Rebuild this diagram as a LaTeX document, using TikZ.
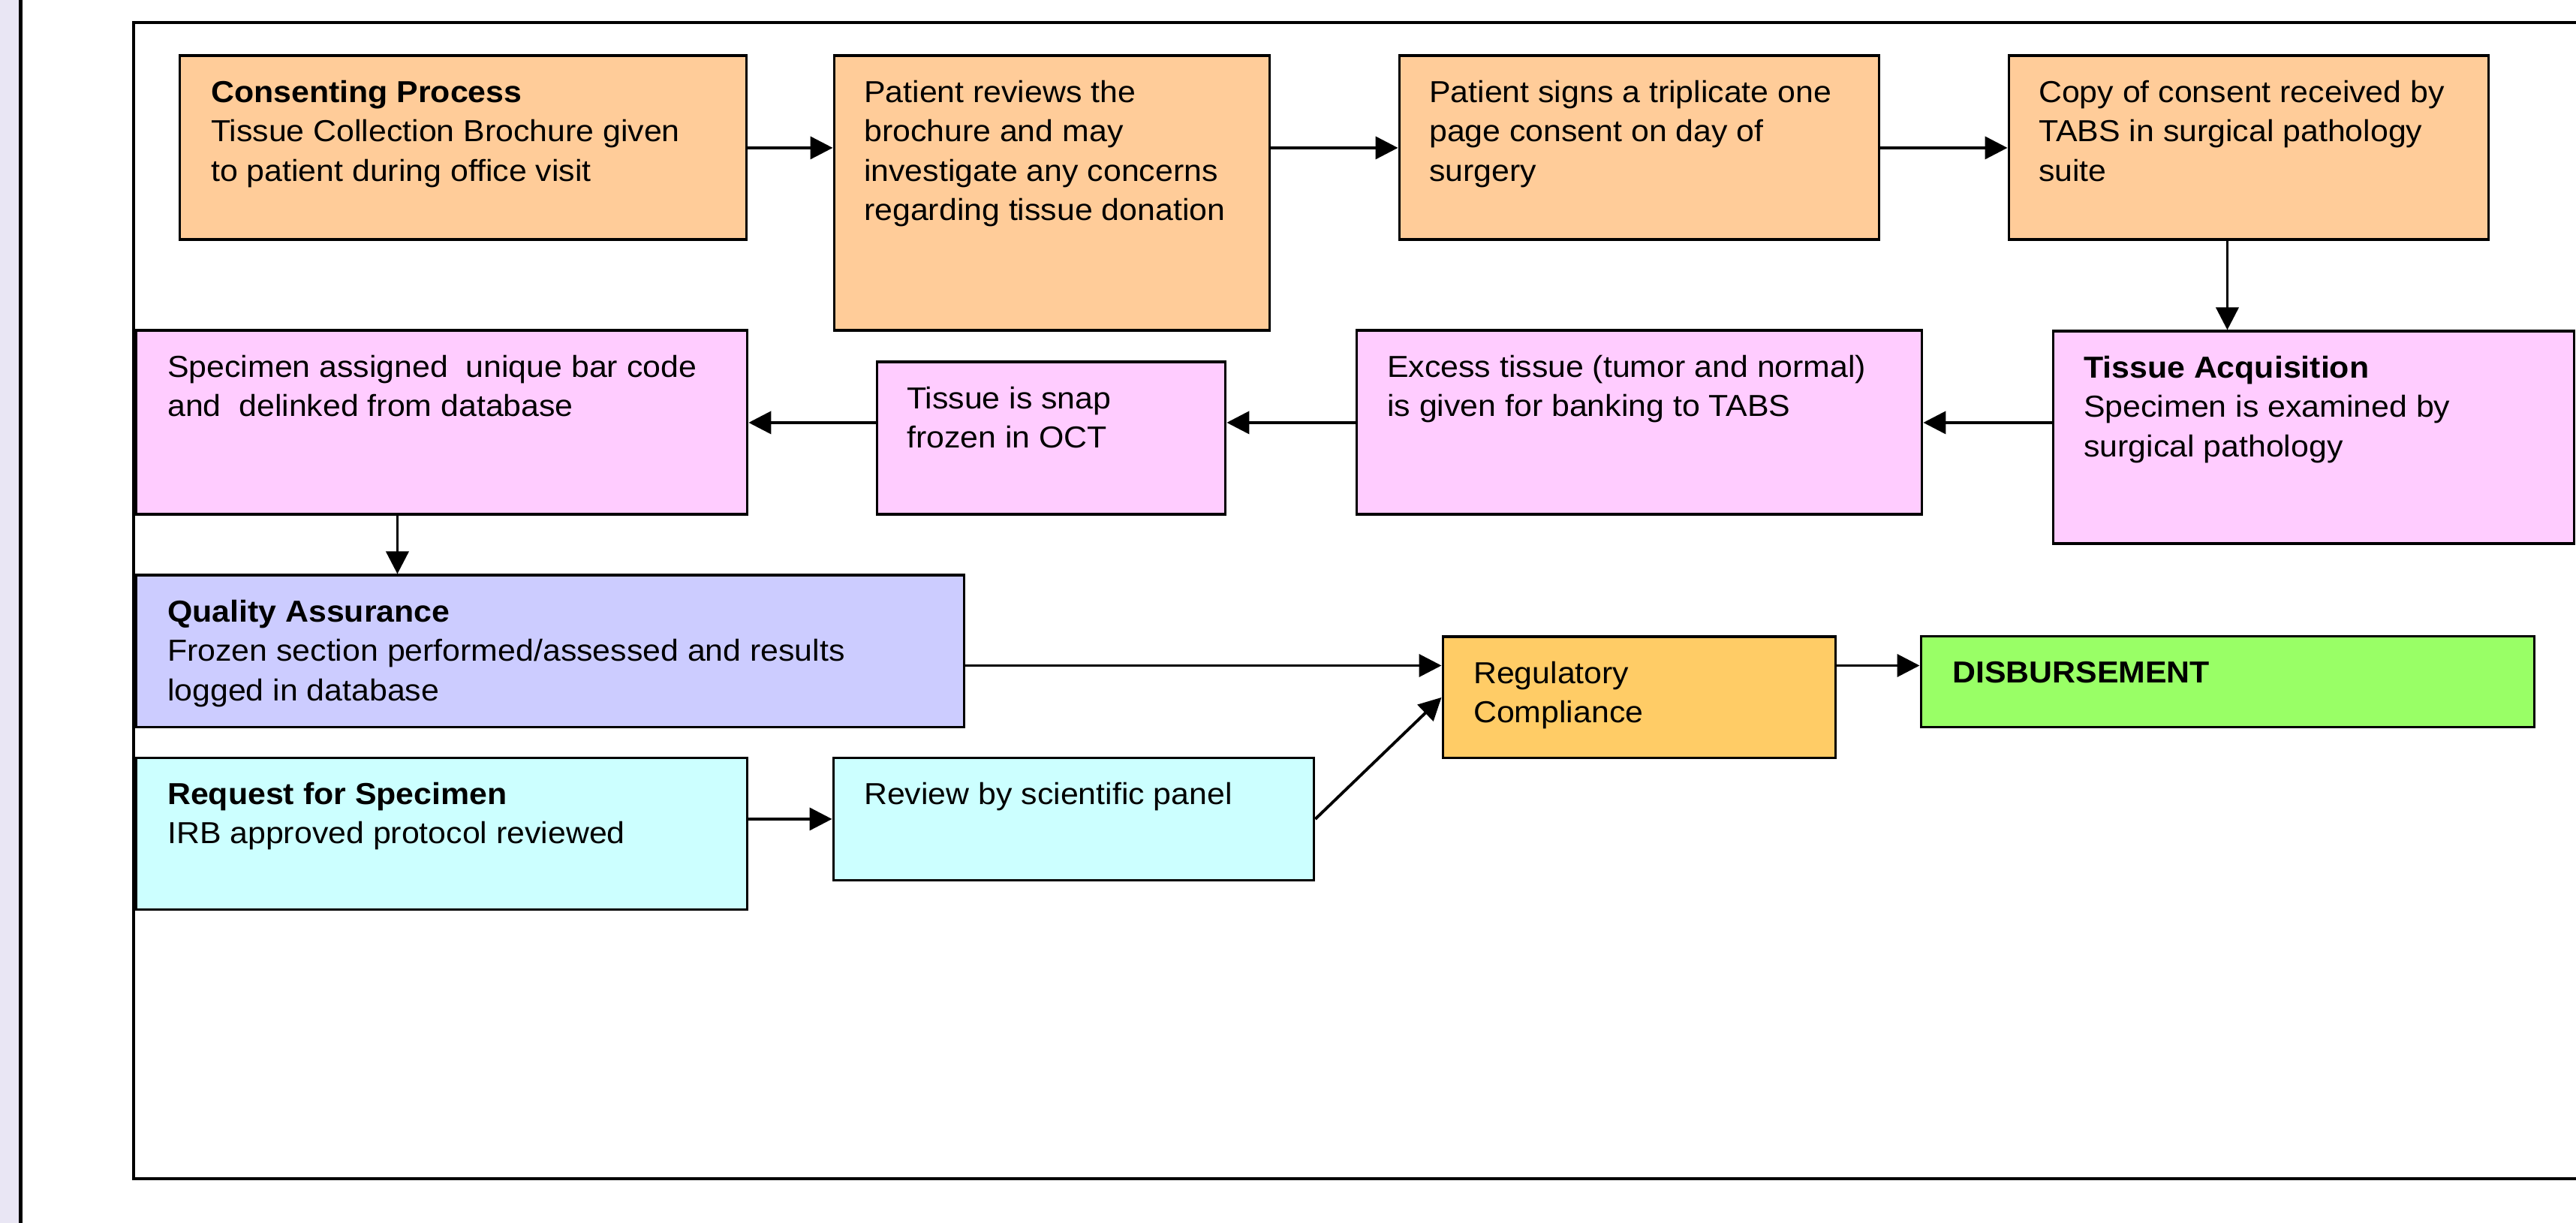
\documentclass[tikz,border=0pt]{standalone}
\usepackage{fontspec}
\setmainfont{Liberation Sans}[FakeStretch=1.06]
\usetikzlibrary{arrows.meta}
\definecolor{peach}{HTML}{FFCC99}
\definecolor{pinkb}{HTML}{FFCCFF}
\definecolor{lavb}{HTML}{CCCCFF}
\definecolor{cyanb}{HTML}{CCFFFF}
\definecolor{regb}{HTML}{FFCC66}
\definecolor{disbb}{HTML}{99FF66}
\definecolor{stripc}{HTML}{E9E6F4}
\newcommand\fstrut{\rule{0pt}{10pt}}
\tikzset{
 box/.style={draw=black, line width=1.1pt, inner sep=0pt, anchor=north west, rectangle},
 txt/.style={inner sep=0pt, anchor=north west, align=left, font=\fontsize{11.5pt}{14.9pt}\selectfont},
 conn/.style={line width=1.1pt, -{Triangle[length=0.30cm,width=0.30cm]}},
}
\begin{document}
\begin{tikzpicture}
\useasboundingbox (0,0) rectangle (34.32,-16.29);
\clip (0,0) rectangle (34.32,-16.29);
\fill[white] (0,0) rectangle (34.32,-16.29);
% left strip and frame
\fill[stripc] (0,0) rectangle (0.25,-16.29);
\draw[line width=1.4pt] (0.275,0.1) -- (0.275,-16.4);
\draw[line width=1.1pt] (35,-0.30) -- (1.78,-0.30) -- (1.78,-15.70) -- (35,-15.70);
\begin{scope}[shift={(-0.025,0.015)}]
% boxes
\node[box, fill=peach, minimum width=7.55cm, minimum height=2.45cm] (cons) at (2.40,-0.74) {};
\node[box, fill=peach, minimum width=5.80cm, minimum height=3.66cm] (rev) at (11.12,-0.74) {};
\node[box, fill=peach, minimum width=6.39cm, minimum height=2.45cm] (sign) at (18.65,-0.74) {};
\node[box, fill=peach, minimum width=6.39cm, minimum height=2.45cm] (copy) at (26.77,-0.74) {};
\node[box, fill=pinkb, minimum width=6.94cm, minimum height=2.83cm] (acq) at (27.36,-4.41) {};
\node[box, fill=pinkb, minimum width=7.53cm, minimum height=2.45cm] (excess) at (18.08,-4.40) {};
\node[box, fill=pinkb, minimum width=4.64cm, minimum height=2.03cm] (snap) at (11.69,-4.82) {};
\node[box, fill=pinkb, minimum width=8.14cm, minimum height=2.45cm] (spec) at (1.82,-4.40) {};
\node[box, fill=lavb, minimum width=11.03cm, minimum height=2.02cm] (qa) at (1.82,-7.66) {};
\node[box, fill=regb, minimum width=5.23cm, minimum height=1.61cm] (reg) at (19.23,-8.48) {};
\node[box, fill=disbb, minimum width=8.17cm, minimum height=1.21cm] (disb) at (25.60,-8.47) {};
\node[box, fill=cyanb, minimum width=8.14cm, minimum height=2.02cm] (req) at (1.82,-10.09) {};
\node[box, fill=cyanb, minimum width=6.40cm, minimum height=1.63cm] (revp) at (11.11,-10.09) {};
% texts
\node[txt] (consT) at ([xshift=0.43cm,yshift=-0.28cm]cons.north west) {\fstrut\textbf{Consenting Process}\\Tissue Collection Brochure given\\to patient during office visit};
\node[txt] (revT) at ([xshift=0.41cm,yshift=-0.28cm]rev.north west) {\fstrut Patient reviews the\\brochure and may\\investigate any concerns\\regarding tissue donation};
\node[txt] (signT) at ([xshift=0.41cm,yshift=-0.28cm]sign.north west) {\fstrut Patient signs a triplicate one\\page consent on day of\\surgery};
\node[txt] (copyT) at ([xshift=0.41cm,yshift=-0.28cm]copy.north west) {\fstrut Copy of consent received by\\TABS in surgical pathology\\suite};
\node[txt] (acqT) at ([xshift=0.42cm,yshift=-0.28cm]acq.north west) {\fstrut\textbf{Tissue Acquisition}\\Specimen is examined by\\surgical pathology};
\node[txt] (excessT) at ([xshift=0.42cm,yshift=-0.28cm]excess.north west) {\fstrut Excess tissue (tumor and normal)\\is given for banking to TABS};
\node[txt] (snapT) at ([xshift=0.41cm,yshift=-0.28cm]snap.north west) {\fstrut Tissue is snap\\frozen in OCT};
\node[txt] (specT) at ([xshift=0.43cm,yshift=-0.28cm]spec.north west) {\fstrut Specimen assigned\ \ unique bar code\\and\ \ delinked from database};
\node[txt] (qaT) at ([xshift=0.43cm,yshift=-0.28cm]qa.north west) {\fstrut\textbf{Quality Assurance}\\Frozen section performed/assessed and results\\logged in database};
\node[txt] (regT) at ([xshift=0.42cm,yshift=-0.28cm]reg.north west) {\fstrut Regulatory\\Compliance};
\node[txt] (disbT) at ([xshift=0.43cm,yshift=-0.28cm]disb.north west) {\fstrut\textbf{DISBURSEMENT}};
\node[txt] (reqT) at ([xshift=0.43cm,yshift=-0.28cm]req.north west) {\fstrut\textbf{Request for Specimen}\\IRB approved protocol reviewed};
\node[txt] (revpT) at ([xshift=0.42cm,yshift=-0.28cm]revp.north west) {\fstrut Review by scientific panel};
% connectors
\draw[conn] (cons.east) -- (rev.west |- cons.east);
\draw[conn] (rev.east |- sign.west) -- (sign.west);
\draw[conn] (sign.east) -- (copy.west);
\draw[conn] ([xshift=-0.285cm]copy.south) -- ([xshift=-0.285cm]copy.south |- acq.north);
\draw[conn] (acq.west |- excess.east) -- (excess.east);
\draw[conn] (excess.west) -- (snap.east |- excess.west);
\draw[conn] (snap.west |- spec.east) -- (spec.east);
\draw[conn] ([xshift=-0.59cm]spec.south) -- ([xshift=-0.59cm]spec.south |- qa.north);
\coordinate (regin) at ([yshift=-0.40cm]reg.north west);
\coordinate (regout) at ([yshift=-0.40cm]reg.north east);
\draw[conn] (qa.east |- regin) -- (regin);
\draw[conn] (regout) -- (disb.west |- regout);
\draw[conn] (req.east |- revp.west) -- (revp.west);
\draw[conn] (revp.east) -- (reg.west);
\end{scope}
\end{tikzpicture}
\end{document}
